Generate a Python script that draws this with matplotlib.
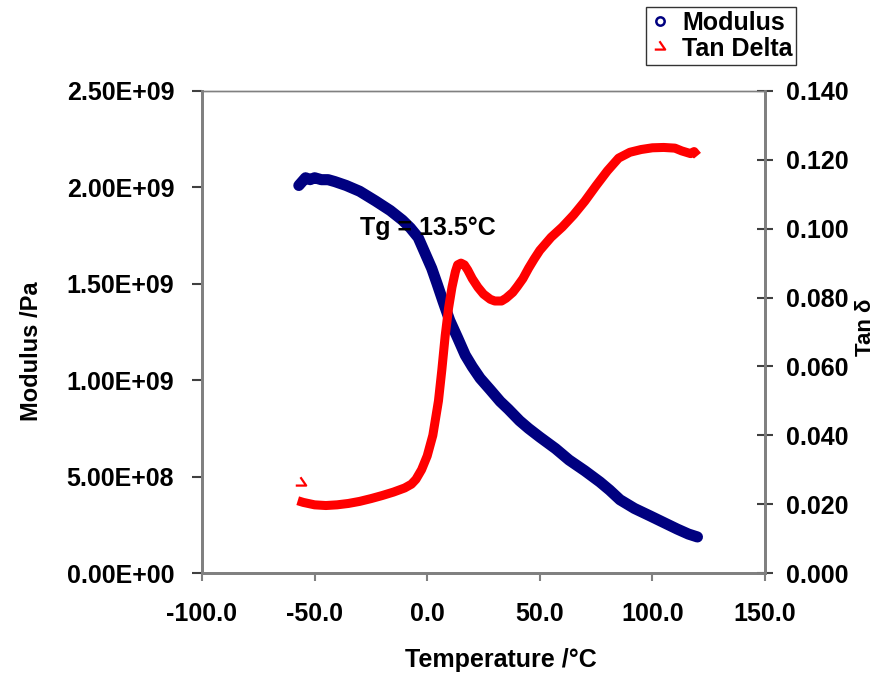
import numpy as np
import matplotlib
matplotlib.use("Agg")
import matplotlib.pyplot as plt
from matplotlib.lines import Line2D
from matplotlib.path import Path
from matplotlib.ticker import FixedLocator, FuncFormatter

plt.rcParams["font.family"] = ["Liberation Sans", "DejaVu Sans"]
plt.rcParams["font.weight"] = "bold"

# modulus (Pa) vs temperature (°C)
MOD_T = [-57.0, -55.5, -54.0, -52.0, -50.0, -47.0, -44.0, -41.0, -36.0, -30.0,
         -23.0, -16.4, -11.0, -7.5, -4.0, -1.0, 2.0, 4.4, 7.0, 10.0,
         13.5, 16.9, 20.0, 23.5, 28.0, 32.4, 36.0, 41.0, 45.0, 50.0,
         57.0, 63.0, 70.0, 76.7, 81.0, 85.6, 92.0, 99.0, 105.0, 111.0,
         116.0, 120.0]
MOD_G = [2.01e9, 2.03e9, 2.05e9, 2.04e9, 2.05e9, 2.04e9, 2.04e9, 2.03e9, 2.01e9, 1.98e9,
         1.93e9, 1.88e9, 1.83e9, 1.79e9, 1.74e9, 1.66e9, 1.58e9, 1.50e9, 1.41e9, 1.31e9,
         1.22e9, 1.13e9, 1.07e9, 1.01e9, 0.95e9, 0.89e9, 0.85e9, 0.79e9, 0.75e9, 0.705e9,
         0.645e9, 0.586e9, 0.53e9, 0.472e9, 0.43e9, 0.38e9, 0.335e9, 0.296e9, 0.262e9, 0.228e9,
         0.202e9, 0.187e9]

# tan delta vs temperature (°C)
TAN_T = [-57.5, -55.0, -50.0, -45.0, -40.0, -35.0, -30.0, -25.0, -20.0, -15.0,
         -10.0, -7.0, -5.0, -2.5, 0.0, 2.5, 5.0, 6.5, 8.0, 9.5,
         11.0, 12.5, 13.5, 15.0, 16.5, 18.0, 20.0, 22.5, 25.0, 28.0,
         30.0, 33.0, 35.0, 38.0, 40.0, 42.5, 45.0, 47.5, 50.0, 55.0,
         60.0, 65.0, 70.0, 75.0, 80.0, 85.0, 90.0, 95.0, 100.0, 105.0,
         110.0, 113.0, 115.0, 117.0, 118.5, 120.0]
TAN_D = [0.0210, 0.0205, 0.0198, 0.0196, 0.0198, 0.0202, 0.0208, 0.0216, 0.0225, 0.0235,
         0.0247, 0.0258, 0.0272, 0.0300, 0.0340, 0.0400, 0.0500, 0.0590, 0.0690, 0.0770,
         0.0830, 0.0875, 0.0895, 0.0900, 0.0895, 0.0880, 0.0855, 0.0830, 0.0810, 0.0795,
         0.0790, 0.0790, 0.0798, 0.0815, 0.0832, 0.0855, 0.0885, 0.0912, 0.0937, 0.0975,
         0.1005, 0.1040, 0.1080, 0.1125, 0.1168, 0.1205, 0.1222, 0.1230, 0.1235, 0.1236,
         0.1234, 0.1226, 0.1222, 0.1218, 0.1224, 0.1212]
TAN_OUTLIER_T = [-56.2]
TAN_OUTLIER_D = [0.0262]

X_TICKS = [-100.0, -50.0, 0.0, 50.0, 100.0, 150.0]
Y1_TICKS = [0.0, 0.5e9, 1.0e9, 1.5e9, 2.0e9, 2.5e9]
Y2_TICKS = [0.0, 0.02, 0.04, 0.06, 0.08, 0.10, 0.12, 0.14]

NAVY = "#000080"
RED = "#FF0000"
GREY = "#808080"
FS = 18

# Excel style tan delta marker
TD_MARK = Path([(-0.1, 0.6), (0.45, -0.2), (-0.55, -0.2)],
               [Path.MOVETO, Path.LINETO, Path.LINETO])

fig = plt.figure(figsize=(8.84, 6.79), dpi=100)
ax = fig.add_axes([0.2285, 0.1561, 0.8654 - 0.2285, 0.866 - 0.1561])
ax2 = ax.twinx()

ax.plot(MOD_T, MOD_G, color=NAVY, lw=8, solid_capstyle="round",
        solid_joinstyle="round", zorder=3)
ax2.plot(TAN_T, TAN_D, color=RED, lw=6.5, solid_capstyle="butt", zorder=2)
ax2.plot(TAN_OUTLIER_T, TAN_OUTLIER_D, ls="none", marker=TD_MARK, ms=9,
         mec=RED, mfc="none", mew=1.6)

ax.set_xlim(-100, 150)
ax.set_ylim(0, 2.5e9)
ax2.set_ylim(0, 0.14)
ax.xaxis.set_major_locator(FixedLocator(X_TICKS))
ax.yaxis.set_major_locator(FixedLocator(Y1_TICKS))
ax2.yaxis.set_major_locator(FixedLocator(Y2_TICKS))
ax.xaxis.set_major_formatter(FuncFormatter(lambda v, p: f"{v:.1f}"))
ax.yaxis.set_major_formatter(FuncFormatter(lambda v, p: f"{v:.2E}"))
ax2.yaxis.set_major_formatter(FuncFormatter(lambda v, p: f"{v:.3f}"))

for a in (ax, ax2):
    for s in a.spines.values():
        s.set_color(GREY)
        s.set_linewidth(2)
    a.patch.set_visible(False)
ax.spines["top"].set_linewidth(1)
ax2.spines["top"].set_linewidth(1)

ax.tick_params(axis="y", direction="out", length=7, width=1.5, color="#404040",
               pad=13, labelsize=FS)
ax.tick_params(axis="x", direction="out", length=6, width=1.5, color=GREY,
               pad=15, labelsize=FS)
ax2.tick_params(axis="y", direction="inout", length=12, width=1.5, color="#404040",
                pad=9, labelsize=FS)
for lab in ax.get_xticklabels() + ax.get_yticklabels() + ax2.get_yticklabels():
    lab.set_fontweight("bold")

ax.set_xlabel("Temperature /°C", fontsize=FS, fontweight="bold")
ax.xaxis.set_label_coords(0.531, -0.155)
ax.set_ylabel("Modulus /Pa", fontsize=FS - 1, fontweight="bold")
ax.yaxis.set_label_coords(-0.282, 0.46)
ax2.set_ylabel("Tan δ", fontsize=FS - 2, fontweight="bold")
ax2.yaxis.set_label_coords(1.16, 0.51)

ax.text(-30, 1.79e9, "Tg = 13.5°C", fontsize=FS, fontweight="bold",
        ha="left", va="center", zorder=5)

handles = [
    Line2D([], [], ls="none", marker="o", ms=6, mfc="none", mec=NAVY, mew=1.8),
    Line2D([], [], ls="none", marker=TD_MARK, ms=9, mfc="none", mec=RED, mew=1.6),
]
leg = fig.legend(handles, ["Modulus", "Tan Delta"], loc="upper right",
                 bbox_to_anchor=(0.901, 0.99),
                 prop={"weight": "bold", "size": FS}, frameon=True,
                 fancybox=False, edgecolor="black", handlelength=0.8,
                 handletextpad=0.5, borderpad=0.15, labelspacing=0.1,
                 borderaxespad=0)
leg.get_frame().set_linewidth(1)

fig.savefig("out.png", dpi=100)
